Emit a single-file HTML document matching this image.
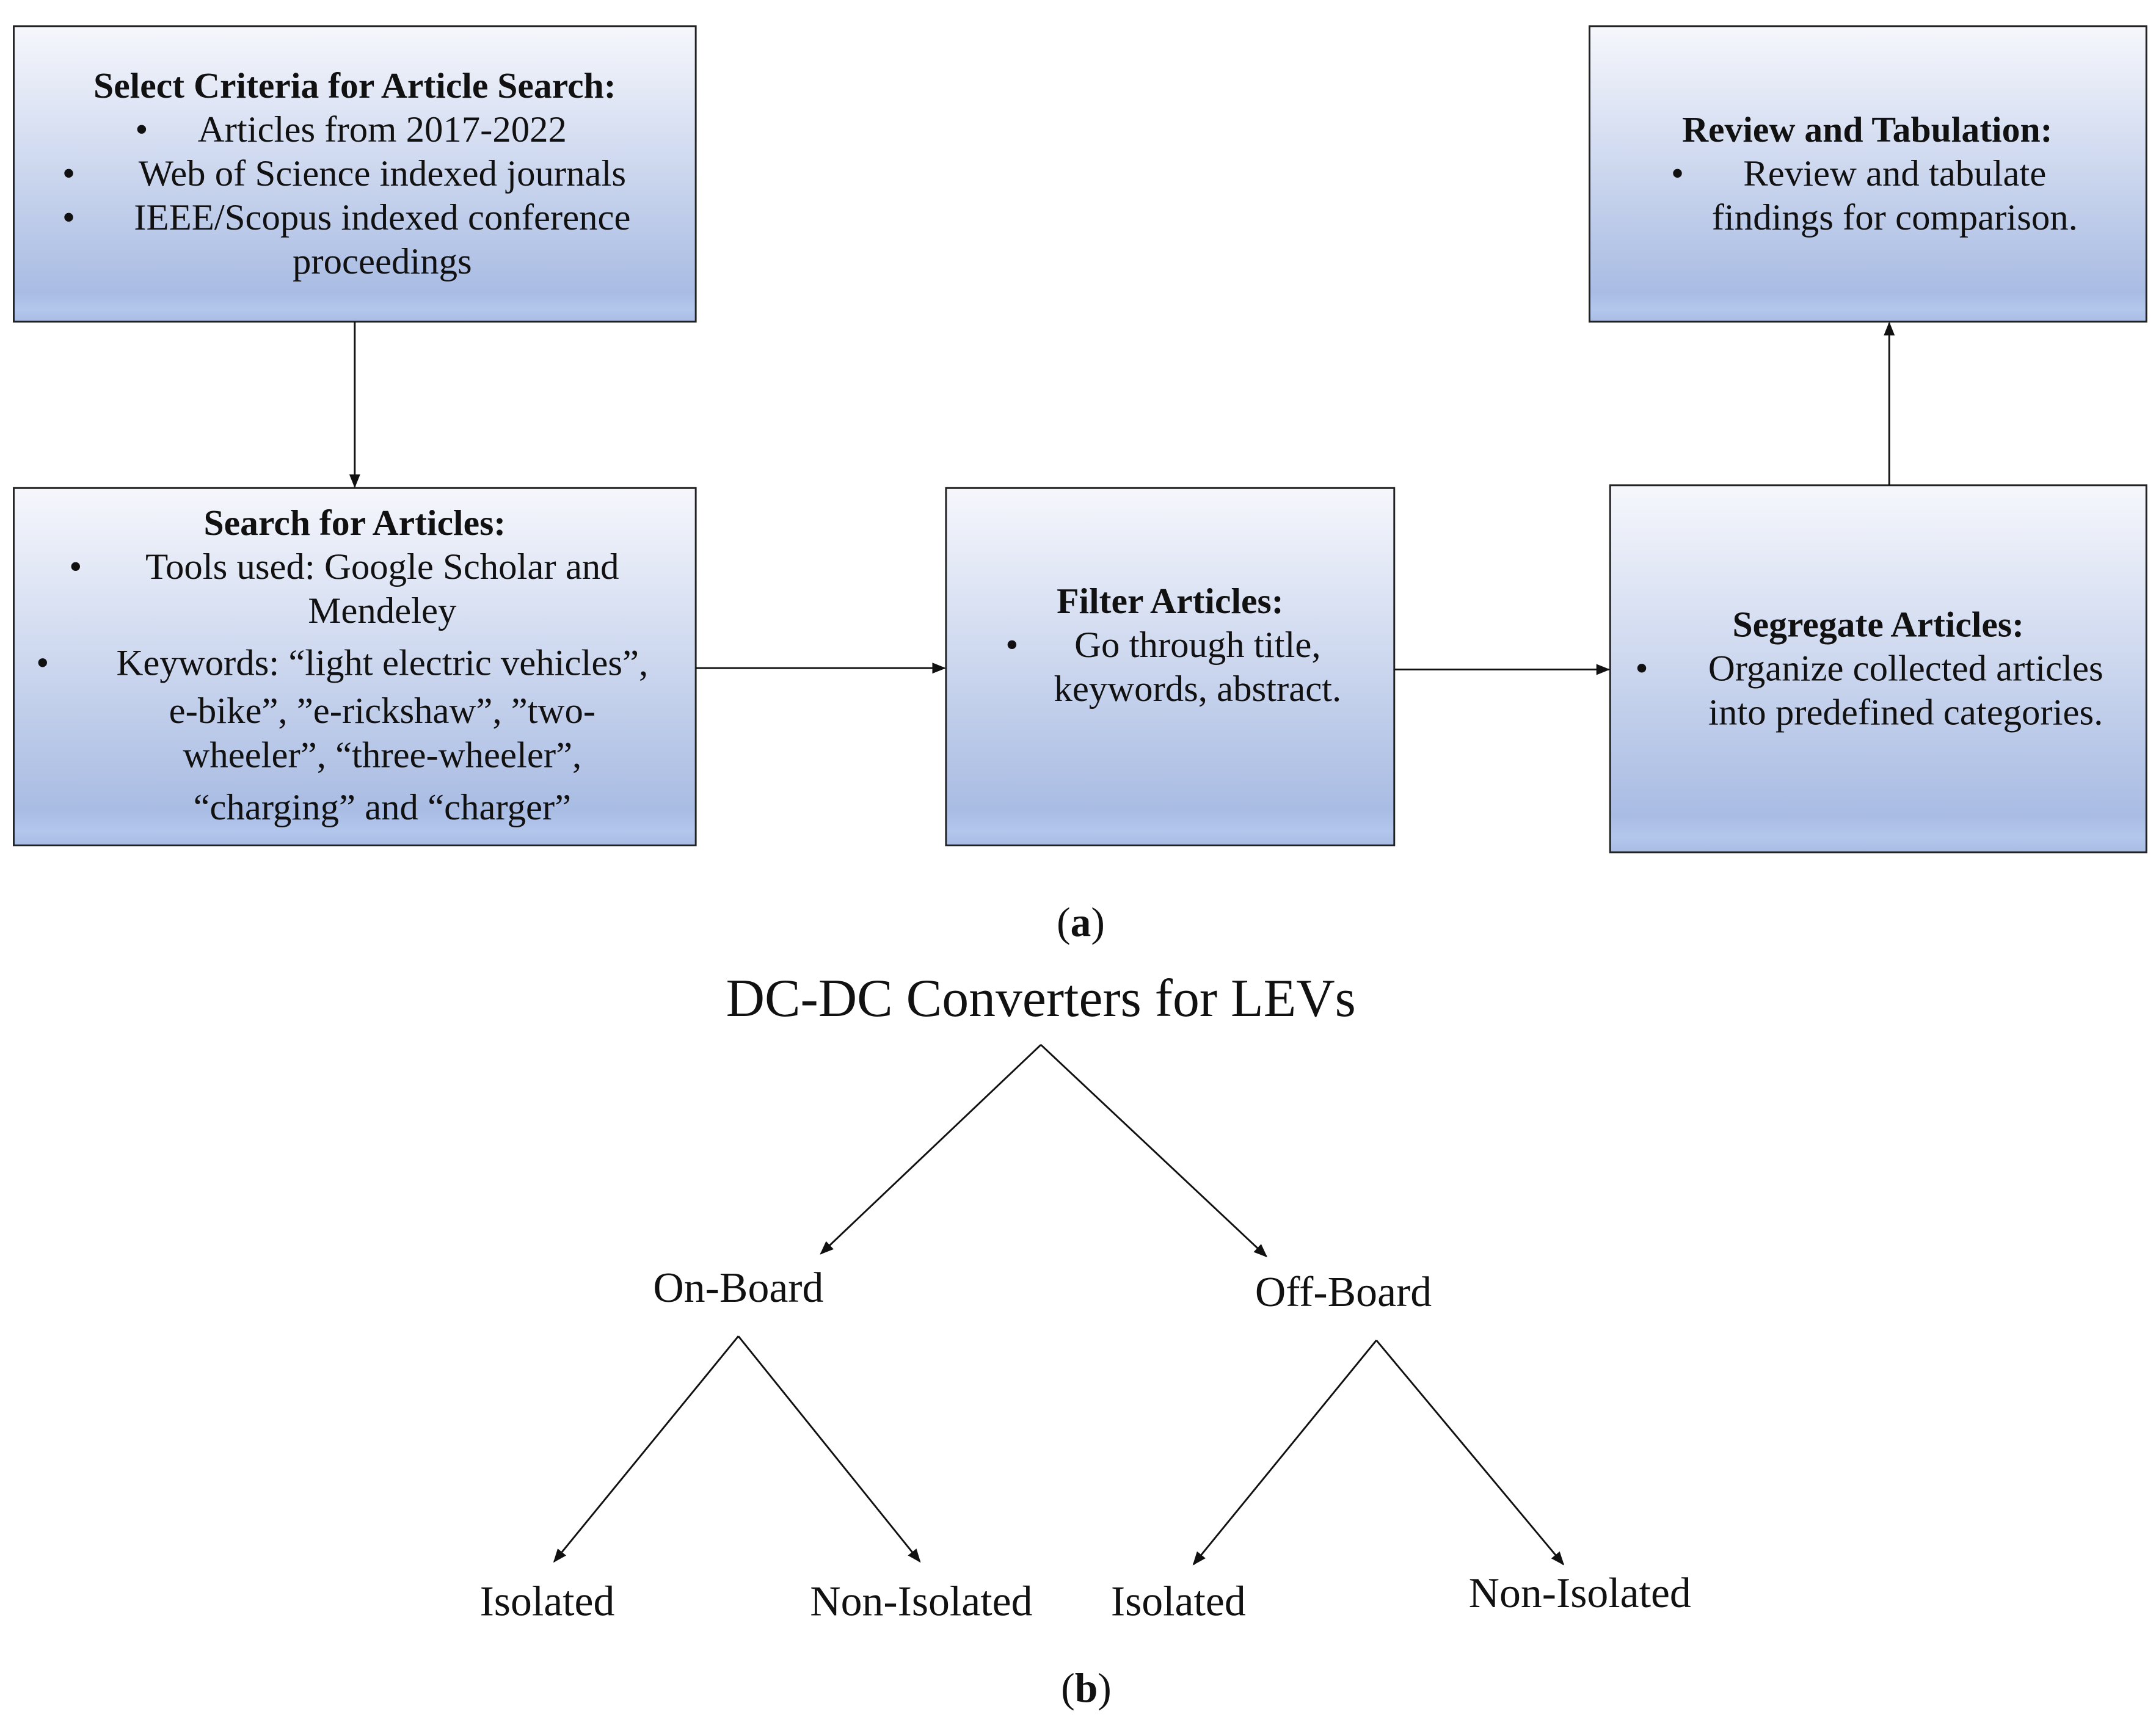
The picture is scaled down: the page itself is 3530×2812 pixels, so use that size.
<!DOCTYPE html>
<html><head><meta charset="utf-8"><style>
html,body{margin:0;padding:0;background:#fff}
svg{display:block}
text{font-family:"Liberation Serif",serif;fill:#111}
</style></head><body>
<svg width="3530" height="2812" viewBox="0 0 1568 1249" xmlns="http://www.w3.org/2000/svg">
<defs>
<linearGradient id="g" x1="0" y1="0" x2="0" y2="1">
<stop offset="0" stop-color="#f6f7fc"/>
<stop offset="0.9" stop-color="#a9bce3"/>
<stop offset="0.96" stop-color="#b3c6ec"/>
<stop offset="1" stop-color="#a9bce3"/>
</linearGradient>
<marker id="a" markerWidth="10" markerHeight="10" refX="9" refY="5" orient="auto" markerUnits="userSpaceOnUse">
<path d="M0,1 L10,5 L0,9 Z" fill="#111"/>
</marker>
</defs>
<g stroke="#222" stroke-width="1.3" fill="url(#g)">
<rect x="10" y="19" width="496" height="215"/>
<rect x="10" y="355" width="496" height="260"/>
<rect x="688" y="355" width="326" height="260"/>
<rect x="1171" y="353" width="390" height="267"/>
<rect x="1156" y="19" width="405" height="215"/>
</g>
<g stroke="#111" stroke-width="1.3" fill="none" marker-end="url(#a)">
<line x1="258" y1="234" x2="258" y2="354"/>
<line x1="506" y1="486" x2="687" y2="486"/>
<line x1="1014" y1="487" x2="1170" y2="487"/>
<line x1="1374" y1="353" x2="1374" y2="235"/>
<line x1="757" y1="760" x2="597" y2="912"/>
<line x1="757" y1="760" x2="921" y2="914"/>
<line x1="537" y1="972" x2="403" y2="1136"/>
<line x1="537" y1="972" x2="669" y2="1136"/>
<line x1="1001" y1="975" x2="868" y2="1138"/>
<line x1="1001" y1="975" x2="1137" y2="1138"/>
</g>
<g font-size="27" text-anchor="middle">
<text x="258" y="71" font-weight="bold" font-size="26.5">Select Criteria for Article Search:</text>
<text x="103" y="103">•</text><text x="278" y="103">Articles from 2017-2022</text>
<text x="50" y="135">•</text><text x="278" y="135">Web of Science indexed journals</text>
<text x="50" y="167">•</text><text x="278" y="167">IEEE/Scopus indexed conference</text>
<text x="278" y="199">proceedings</text>

<text x="258" y="389" font-weight="bold" font-size="26.5">Search for Articles:</text>
<text x="55" y="421">•</text><text x="278" y="421">Tools used: Google Scholar and</text>
<text x="278" y="453">Mendeley</text>
<text x="31" y="491">•</text><text x="278" y="491">Keywords: “light electric vehicles”,</text>
<text x="278" y="526">e-bike”, ”e-rickshaw”, ”two-</text>
<text x="278" y="558">wheeler”, “three-wheeler”,</text>
<text x="278" y="596">“charging” and “charger”</text>

<text x="851" y="446" font-weight="bold" font-size="26.5">Filter Articles:</text>
<text x="736" y="478">•</text><text x="871" y="478">Go through title,</text>
<text x="871" y="510">keywords, abstract.</text>

<text x="1366" y="463" font-weight="bold" font-size="26.5">Segregate Articles:</text>
<text x="1194" y="495">•</text><text x="1386" y="495">Organize collected articles</text>
<text x="1386" y="527">into predefined categories.</text>

<text x="1358" y="103" font-weight="bold" font-size="26.5">Review and Tabulation:</text>
<text x="1220" y="135">•</text><text x="1378" y="135">Review and tabulate</text>
<text x="1378" y="167">findings for comparison.</text>
</g>
<g text-anchor="middle">
<text x="786" y="681" font-size="30">(<tspan font-weight="bold">a</tspan>)</text>
<text x="757" y="739" font-size="39">DC-DC Converters for LEVs</text>
<g font-size="31">
<text x="537" y="947">On-Board</text>
<text x="977" y="950">Off-Board</text>
<text x="398" y="1175">Isolated</text>
<text x="670" y="1175">Non-Isolated</text>
<text x="857" y="1175">Isolated</text>
<text x="1149" y="1169">Non-Isolated</text>
</g>
<text x="790" y="1238" font-size="30">(<tspan font-weight="bold">b</tspan>)</text>
</g>
</svg>
</body></html>
